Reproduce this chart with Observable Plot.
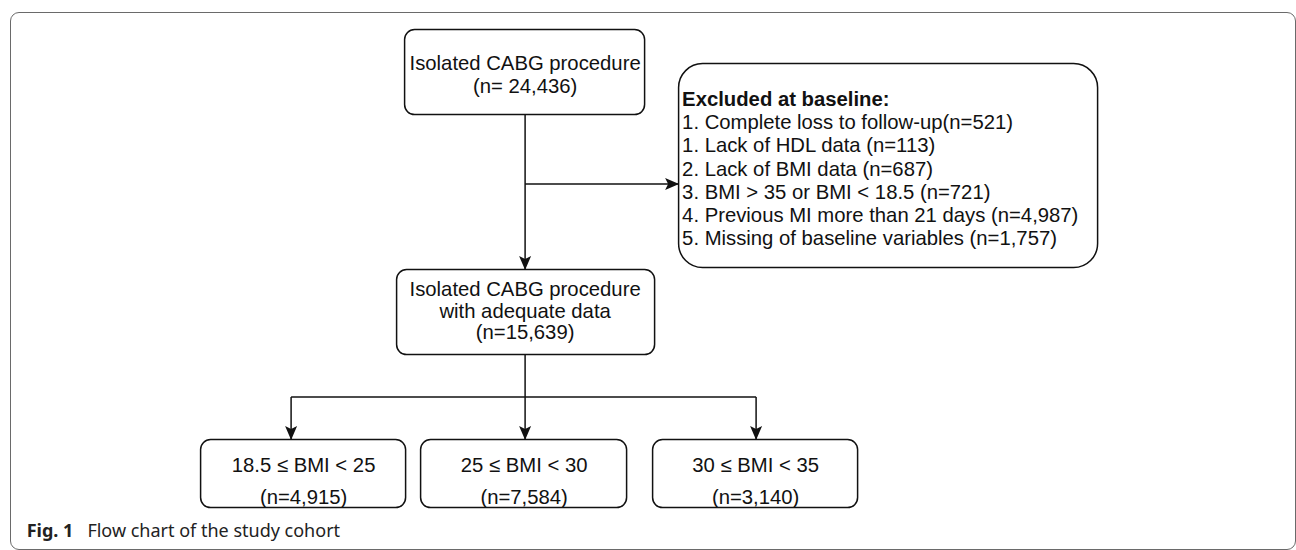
<!DOCTYPE html>
<html>
<head>
<meta charset="utf-8">
<script src="https://cdn.jsdelivr.net/npm/d3@7"></script>
<script src="https://cdn.jsdelivr.net/npm/@observablehq/plot@0.6"></script>
<style>
  html, body { margin: 0; padding: 0; background: #fff; }
  #chart figure {
    position: absolute; left: 10px; top: 12px; margin: 0;
    width: 1286px; height: 538px; box-sizing: border-box;
    border: 1.4px solid #6a6a6a; border-radius: 9px; overflow: hidden;
    background: #fff;
  }
  #chart figcaption {
    font-family: "Noto Sans", "Open Sans", sans-serif; font-size: 18px;
    line-height: 18px; color: #222; padding: 3px 0 0 15.7px; margin: 0;
  }
  #chart figcaption b { font-weight: 700; margin-right: 14px; }
</style>
</head>
<body>
<div id="chart"></div>
<script>
// ---- data ----
const cohortLabel = ["Isolated CABG procedure"];
const cohortN = 24436;
const exclusionTitle = "Excluded at baseline:";
const exclusionNumbers = ["1.", "1.", "2.", "3.", "4.", "5."];
const exclusionReasons = ["Complete loss to follow-up", "Lack of HDL data", "Lack of BMI data",
  "BMI > 35 or BMI < 18.5", "Previous MI more than 21 days", "Missing of baseline variables"];
const exclusionSeparators = ["", " ", " ", " ", " ", " "];
const exclusionN = [521, 113, 687, 721, 4987, 1757];
const adequateLabel = ["Isolated CABG procedure", "with adequate data"];
const adequateN = 15639;
const bmiGroups = ["18.5 \u2264 BMI < 25", "25 \u2264 BMI < 30", "30 \u2264 BMI < 35"];
const bmiN = [4915, 7584, 3140];
const captionLabel = "Fig. 1";
const captionText = "Flow chart of the study cohort";

// ---- layout (page pixel units) ----
const fmt = d3.format(",");
const OX = 11.4, OY = 13.4, W = 1283, H = 505;
const FONT = "Liberation Sans, Arial, Helvetica, sans-serif";
const FS = 20.3;

const layout = {
  top: {x1: 405, x2: 645, y1: 30, y2: 115, cx: 525, lineY: [63, 86]},
  excl: {x1: 679, x2: 1098, y1: 64, y2: 268, tx: 682, lineY0: 99, dy: 23.3},
  mid: {x1: 397, x2: 655, y1: 270, y2: 355, cx: 525, lineY: [289.5, 311, 332.5]},
  bottom: {y1: 440, y2: 508, boxX: [[201, 406], [421, 627], [653, 858]], arrowX: [291, 525, 756], lineY: [465, 497]},
  branchY: 397, sideY: 184
};

const smallBoxes = [
  {x1: layout.top.x1, x2: layout.top.x2, y1: layout.top.y1, y2: layout.top.y2},
  {x1: layout.mid.x1, x2: layout.mid.x2, y1: layout.mid.y1, y2: layout.mid.y2},
  ...layout.bottom.boxX.map(([x1, x2]) => ({x1, x2, y1: layout.bottom.y1, y2: layout.bottom.y2}))
];
const bigBoxes = [{x1: layout.excl.x1, x2: layout.excl.x2, y1: layout.excl.y1, y2: layout.excl.y2}];

const centerTexts = [
  {x: layout.top.cx, y: layout.top.lineY[0], text: cohortLabel[0]},
  {x: layout.top.cx, y: layout.top.lineY[1], text: `(n= ${fmt(cohortN)})`},
  ...adequateLabel.map((t, i) => ({x: layout.mid.cx, y: layout.mid.lineY[i], text: t})),
  {x: layout.mid.cx, y: layout.mid.lineY[2], text: `(n=${fmt(adequateN)})`},
  ...bmiGroups.flatMap((g, i) => {
    const [a, b] = layout.bottom.boxX[i];
    const cx = (a + b) / 2;
    return [
      {x: cx, y: layout.bottom.lineY[0], text: g},
      {x: cx, y: layout.bottom.lineY[1], text: `(n=${fmt(bmiN[i])})`}
    ];
  })
];

const exclTitle = [{x: layout.excl.tx, y: layout.excl.lineY0, text: exclusionTitle}];
const exclTexts = exclusionReasons.map((r, i) => ({
  x: layout.excl.tx, y: layout.excl.lineY0 + (i + 1) * layout.excl.dy,
  text: `${exclusionNumbers[i]} ${r}${exclusionSeparators[i]}(n=${fmt(exclusionN[i])})`
}));

const links = [
  {x1: 525, y1: layout.top.y2, x2: 525, y2: layout.mid.y1},
  {x1: 525, y1: layout.sideY, x2: layout.excl.x1, y2: layout.sideY},
  {x1: 525, y1: layout.mid.y2, x2: 525, y2: layout.branchY},
  {x1: layout.bottom.arrowX[0], y1: layout.branchY, x2: layout.bottom.arrowX[2], y2: layout.branchY},
  ...layout.bottom.arrowX.map(x => ({x1: x, y1: layout.branchY, x2: x, y2: layout.bottom.y1}))
];

const downHeads = [
  {x: 525, y: layout.mid.y1},
  ...layout.bottom.arrowX.map(x => ({x, y: layout.bottom.y1}))
];
const rightHeads = [{x: layout.excl.x1, y: layout.sideY}];

const arrowDown = {draw(ctx) {
  ctx.moveTo(0, 0); ctx.lineTo(-6, -14); ctx.lineTo(0, -11); ctx.lineTo(6, -14); ctx.closePath();
}};
const arrowRight = {draw(ctx) {
  ctx.moveTo(0, 0); ctx.lineTo(-14, -6); ctx.lineTo(-11, 0); ctx.lineTo(-14, 6); ctx.closePath();
}};

const caption = document.createElement("span");
caption.innerHTML = `<b>${captionLabel}</b>${captionText}`;

const plot = Plot.plot({
  width: W, height: H,
  margin: 0, marginTop: 0, marginRight: 0, marginBottom: 0, marginLeft: 0,
  x: {type: "linear", domain: [OX, OX + W], range: [0, W], axis: null},
  y: {type: "linear", domain: [OY, OY + H], range: [0, H], axis: null},
  caption,
  marks: [
    Plot.link(links, {x1: "x1", y1: "y1", x2: "x2", y2: "y2", stroke: "#111", strokeWidth: 1.5}),
    Plot.rect(smallBoxes, {x1: "x1", x2: "x2", y1: "y1", y2: "y2", rx: 10, fill: "white", stroke: "#111", strokeWidth: 1.5}),
    Plot.rect(bigBoxes, {x1: "x1", x2: "x2", y1: "y1", y2: "y2", rx: 24, fill: "white", stroke: "#111", strokeWidth: 1.5}),
    Plot.dot(downHeads, {x: "x", y: "y", r: 5, symbol: arrowDown, fill: "#111", stroke: "none"}),
    Plot.dot(rightHeads, {x: "x", y: "y", r: 5, symbol: arrowRight, fill: "#111", stroke: "none"}),
    Plot.text(centerTexts, {x: "x", y: "y", text: "text", fontSize: FS, fontFamily: FONT, fill: "#111", textAnchor: "middle"}),
    Plot.text(exclTitle, {x: "x", y: "y", text: "text", fontSize: FS, fontFamily: FONT, fill: "#111", textAnchor: "start", fontWeight: "bold"}),
    Plot.text(exclTexts, {x: "x", y: "y", text: "text", fontSize: FS, fontFamily: FONT, fill: "#111", textAnchor: "start"})
  ]
});
document.getElementById("chart").appendChild(plot);
</script>
</body>
</html>
